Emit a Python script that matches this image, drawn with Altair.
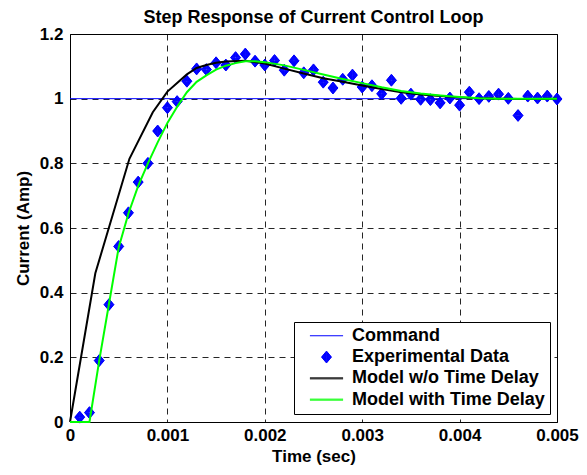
import altair as alt
import pandas as pd

# ---------------- data ----------------
cmd_t = [0.0, 0.005]
cmd_y = [1.0, 1.0]

exp_t = [0.0001, 0.0002, 0.0003, 0.0004, 0.0005, 0.0006, 0.0007, 0.0008, 0.0009, 0.0010,
         0.0011, 0.0012, 0.0013, 0.0014, 0.0015, 0.0016, 0.0017, 0.0018, 0.0019, 0.0020,
         0.0021, 0.0022, 0.0023, 0.0024, 0.0025, 0.0026, 0.0027, 0.0028, 0.0029, 0.0030,
         0.0031, 0.0032, 0.0033, 0.0034, 0.0035, 0.0036, 0.0037, 0.0038, 0.0039, 0.0040,
         0.0041, 0.0042, 0.0043, 0.0044, 0.0045, 0.0046, 0.0047, 0.0048, 0.0049, 0.0050]
exp_y = [0.015, 0.029, 0.190, 0.363, 0.543, 0.647, 0.742, 0.800, 0.900, 0.972,
         0.991, 1.054, 1.092, 1.090, 1.111, 1.104, 1.127, 1.138, 1.116, 1.104,
         1.118, 1.088, 1.117, 1.080, 1.089, 1.051, 1.033, 1.060, 1.073, 1.036,
         1.040, 1.015, 1.057, 1.001, 1.014, 0.998, 0.997, 0.987, 1.002, 0.980,
         1.020, 1.000, 1.007, 1.014, 1.001, 0.948, 1.008, 1.002, 1.008, 0.999]

nodelay_t = [0.0, 0.00026, 0.00061, 0.00085, 0.0010, 0.0012, 0.0013, 0.0014, 0.0015, 0.0016,
             0.0018, 0.0020, 0.0022, 0.0024, 0.0026, 0.0028, 0.0030, 0.0032, 0.0034, 0.0036,
             0.0038, 0.0040, 0.0042, 0.0044, 0.0046, 0.0048, 0.0050]
nodelay_y = [0.0, 0.460, 0.814, 0.958, 1.022, 1.075, 1.095, 1.104, 1.111, 1.115,
             1.117, 1.109, 1.093, 1.078, 1.063, 1.052, 1.041, 1.030, 1.020, 1.013,
             1.008, 1.004, 1.001, 1.000, 0.999, 0.999, 1.000]

delay_t = [0.0, 0.0002, 0.0003, 0.0004, 0.0005, 0.0006, 0.0007, 0.0008, 0.0009, 0.0010,
           0.0011, 0.0012, 0.0013, 0.0014, 0.0015, 0.0016, 0.0017, 0.0018, 0.0019, 0.0020,
           0.0022, 0.0024, 0.0026, 0.0028, 0.0030, 0.0032, 0.0034, 0.0036, 0.0038, 0.0040,
           0.0042, 0.0044, 0.0050]
delay_y = [0.0, 0.0, 0.190, 0.365, 0.540, 0.645, 0.730, 0.800, 0.865, 0.925,
           0.975, 1.020, 1.052, 1.072, 1.090, 1.102, 1.110, 1.116, 1.116, 1.113,
           1.103, 1.089, 1.075, 1.061, 1.048, 1.035, 1.024, 1.016, 1.010, 1.005,
           1.001, 1.000, 1.000]

series_names = ["Command", "Experimental Data", "Model w/o Time Delay", "Model with Time Delay"]
series_colors = ["#0000ff", "#0000ff", "#000000", "#00ff00"]
x_ticks = [0.0, 0.001, 0.002, 0.003, 0.004, 0.005]
y_ticks = [0.0, 0.2, 0.4, 0.6, 0.8, 1.0, 1.2]

# ---------------- symbol paths (unit coordinates, scaled by symbol size) ----------------
def diamond_path(hw=0.3, hh=0.36, rings=11):
    parts = []
    for i in range(rings):
        k = 1.0 - i / rings
        w, h = hw * k, hh * k
        parts.append(f"M0,{-h:.4f}L{w:.4f},0L0,{h:.4f}L{-w:.4f},0Z")
    return "".join(parts)

THIN_LINE = "M-1,0L1,0"
THICK_LINE = "M-1,-0.03L1,-0.03M-1,0.03L1,0.03"
DIAMOND = diamond_path()
series_shapes = [THIN_LINE, DIAMOND, THICK_LINE, THICK_LINE]

# ---------------- tables ----------------
df_cmd = pd.DataFrame({"t": cmd_t, "y": cmd_y})
df_exp = pd.DataFrame({"t": exp_t, "y": exp_y, "series": series_names[1]})
df_nd = pd.DataFrame({"t": nodelay_t, "y": nodelay_y})
df_d = pd.DataFrame({"t": delay_t, "y": delay_y})

FONT = "Liberation Sans"
FS = 17

x_enc = alt.X("t:Q", title="Time (sec)",
              scale=alt.Scale(domain=[0, 0.005], nice=False, zero=False),
              axis=alt.Axis(values=x_ticks, format="~g", grid=True, gridDash=[6, 5],
                            gridColor="#000000", gridOpacity=0.85, ticks=False, tickSize=0,
                            domain=False, labelPadding=5, titlePadding=5, labelFlush=False,
                            labelFont=FONT, labelFontSize=FS, labelFontWeight="bold",
                            labelColor="#000000", titleFont=FONT, titleFontSize=FS,
                            titleFontWeight="bold", titleColor="#000000"))
y_enc = alt.Y("y:Q", title="Current (Amp)",
              scale=alt.Scale(domain=[0, 1.2], nice=False, zero=False),
              axis=alt.Axis(values=y_ticks, format="~g", grid=True, gridDash=[6, 5],
                            gridColor="#000000", gridOpacity=0.85, ticks=False, tickSize=0,
                            domain=False, labelPadding=7, titlePadding=7, labelFlush=False,
                            labelFont=FONT, labelFontSize=FS, labelFontWeight="bold",
                            labelColor="#000000", titleFont=FONT, titleFontSize=FS,
                            titleFontWeight="bold", titleColor="#000000"))

legend = alt.Legend(
    title=None, orient="none", legendX=224, legendY=288,
    fillColor="#ffffff", strokeColor="#000000", padding=5,
    labelFont=FONT, labelFontSize=18, labelFontWeight="bold", labelColor="#000000",
    labelExpr="datum.label + '\u00a0\u00a0'", labelLimit=400,
    labelOffset=8, symbolOffset=10, rowPadding=2.3, clipHeight=17.5,
    symbolSize=1100, symbolStrokeWidth=1,
    symbolOpacity=1, symbolFillColor="transparent",
)

color_scale = alt.Scale(domain=series_names, range=series_colors)
shape_scale = alt.Scale(domain=series_names, range=series_shapes)

cmd_layer = alt.Chart(df_cmd).mark_line(strokeWidth=1, color=series_colors[0]).encode(x=x_enc, y=y_enc)
exp_layer = alt.Chart(df_exp).mark_point(filled=False, size=1100, opacity=1, strokeWidth=1).encode(
    x=x_enc, y=y_enc,
    color=alt.Color("series:N", scale=color_scale, legend=legend),
    shape=alt.Shape("series:N", scale=shape_scale, legend=legend))
nd_layer = alt.Chart(df_nd).mark_line(strokeWidth=2, color=series_colors[2]).encode(x=x_enc, y=y_enc)
d_layer = alt.Chart(df_d).mark_line(strokeWidth=2, color=series_colors[3]).encode(x=x_enc, y=y_enc)

chart = alt.layer(cmd_layer, exp_layer, nd_layer, d_layer).properties(
    width=487, height=388,
    title=alt.TitleParams("Step Response of Current Control Loop", font=FONT, fontSize=18,
                          fontWeight="bold", color="#000000", offset=-2,
                          anchor="middle", frame="group"),
    autosize=alt.AutoSizeParams(type="none"),
    padding={"left": 62, "top": 26, "right": 22, "bottom": 50},
    background="#ffffff",
).configure_view(stroke="#000000", strokeWidth=1)

chart.save("out.html", embed_options={"renderer": "svg", "actions": False})
